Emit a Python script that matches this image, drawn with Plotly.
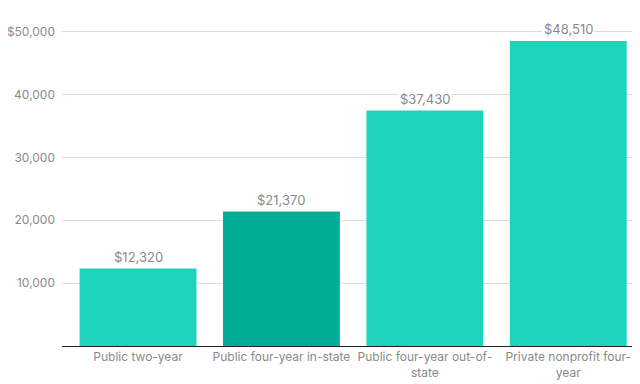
import plotly.graph_objects as go

categories = ["Public two-year", "Public four-year in-state",
              "Public four-year out-of-<br>state", "Private nonprofit four-<br>year"]
values = [12320, 21370, 37430, 48510]
bar_colors = ["#1dd5bd", "#00ad96", "#1dd5bd", "#1dd5bd"]
y_tickvals = [10000, 20000, 30000, 40000, 50000]
y_ticktext = ["10,000", "20,000", "30,000", "40,000", "$50,000"]
value_labels = ["$12,320", "$21,370", "$37,430", "$48,510"]

font_family = "Inter, Roboto, sans-serif"
gray = "#8a8a8a"

fig = go.Figure()
fig.add_trace(go.Bar(
    x=list(range(len(categories))), y=values,
    marker=dict(color=bar_colors, line=dict(width=0)),
    width=0.815, hoverinfo="skip",
))
for i, (v, t) in enumerate(zip(values, value_labels)):
    fig.add_annotation(x=i, y=v, text=t, showarrow=False, yshift=12,
                       bgcolor="white", borderpad=1,
                       font=dict(family=font_family, size=13, color=gray))

# page body has an 8px default margin, so the figure is sized to fit the window
fig.update_layout(
    width=632, height=376,
    margin=dict(l=54, r=0, t=11, b=38),
    paper_bgcolor="white", plot_bgcolor="white",
    showlegend=False,
    font=dict(family=font_family, size=12, color=gray),
    xaxis=dict(
        tickmode="array", tickvals=list(range(len(categories))), ticktext=categories,
        range=[-0.53, 3.5], showgrid=False, showline=True, linecolor="#222",
        linewidth=1, ticks="", tickfont=dict(size=12, color=gray),
        zeroline=False, automargin=False,
    ),
    yaxis=dict(
        range=[0, 52000], tickmode="array", tickvals=y_tickvals, ticktext=y_ticktext,
        showgrid=True, gridcolor="#dcdcdc", gridwidth=1, zeroline=False,
        ticks="", ticklabelstandoff=6, tickfont=dict(size=12, color=gray),
        automargin=False,
    ),
)

fig.write_html("out.html")
